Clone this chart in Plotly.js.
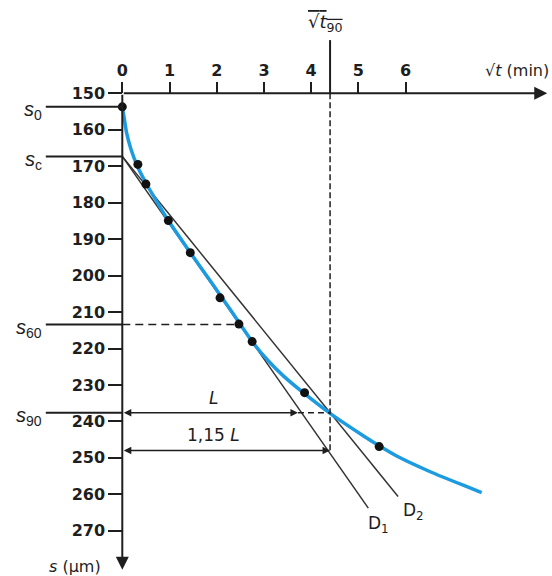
<!DOCTYPE html>
<html>
<head>
<meta charset="utf-8">
<script src="https://cdn.plot.ly/plotly-3.0.1.min.js"></script>
<style>html,body{margin:0;padding:0;background:#fff;}#chart{width:552px;height:576px;}</style>
</head>
<body>
<div id="chart"></div>
<script>
// ---- data ----
// sqrt(t) in sqrt(min), settlement s in µm
var curveX = [0, 0.04, 0.09, 0.18, 0.32, 0.5, 0.8, 0.975, 1.44, 1.9, 2.3, 2.75, 3.1, 3.41, 3.86, 4.4, 5.11, 5.44, 5.81, 6.52, 7.22, 7.61];
var curveS = [153.7, 156.8, 160.8, 165.2, 170.0, 174.6, 181.2, 184.9, 193.7, 202.1, 209.6, 218.1, 223.5, 227.5, 232.4, 237.8, 244.0, 246.7, 249.5, 253.8, 257.5, 259.5];
var dotX = [0, 0.33, 0.5, 0.975, 1.44, 2.07, 2.47, 2.75, 3.86, 5.44];
var dotS = [153.7, 169.5, 174.9, 184.9, 193.7, 206.1, 213.3, 218.1, 232.1, 246.9];
var d1X = [0, 5.21];
var d1S = [167.3, 263.8];
var d2X = [0, 5.84];
var d2S = [167.3, 260.6];
var xTicks = [0, 1, 2, 3, 4, 5, 6];
var yTicks = [150, 160, 170, 180, 190, 200, 210, 220, 230, 240, 250, 260, 270];
var levelNames = ['0', 'c', '60', '90'];
var levelS = [153.7, 167.3, 213.4, 237.6];
var s115 = 248.0;          // level of the 1,15 L arrow
var sqrtT90 = 4.4;         // abscissa of sqrt(t90)
var xL = 3.72;             // abscissa of D1 at s90 (end of L)
var s60X = 2.47;           // end of s60 dashed line
// ---- axes geometry ----
var xRange = [-2.59, 9.10];
var yRange = [282.4, 124.4];
var yAxisTop = 150, yAxisEnd = 280.7, xAxisEnd = 9.0, leftLineX = -1.62, t90Top = 135.4;

var ink = '#1e1e1e';
var tickFont = {family: 'DejaVu Sans', size: 16, color: ink, weight: 'bold'};
var txtFont = {family: 'DejaVu Sans', size: 17, color: ink};

var traces = [
  {x: d1X, y: d1S, mode: 'lines', line: {color: '#333', width: 1.5}, hoverinfo: 'skip'},
  {x: d2X, y: d2S, mode: 'lines', line: {color: '#333', width: 1.5}, hoverinfo: 'skip'},
  {x: curveX, y: curveS, mode: 'lines', line: {color: '#1c9be0', width: 3.5, shape: 'spline', smoothing: 0.5}, hoverinfo: 'skip'},
  {x: dotX, y: dotS, mode: 'markers', marker: {color: '#111', size: 9}, hoverinfo: 'skip'}
];

var shapes = [];
var annotations = [];
// left reference lines for s0, sc, s60, s90
levelS.forEach(function (s, i) {
  shapes.push({type: 'line', xref: 'x', yref: 'y', x0: leftLineX, x1: 0, y0: s, y1: s, line: {color: ink, width: 2}});
  annotations.push({xref: 'x', yref: 'y', x: leftLineX, y: s, xanchor: 'right', yanchor: 'middle', xshift: -2, yshift: -4,
    text: '<i>s</i><sub>' + levelNames[i] + '</sub>', showarrow: false, font: {family: 'Liberation Sans', size: 20, color: ink}});
});
// s60 dashed
shapes.push({type: 'line', xref: 'x', yref: 'y', x0: 0, x1: s60X, y0: levelS[2], y1: levelS[2], line: {color: ink, width: 1.5, dash: '8px,5px'}});
// s90 dashed continuation
shapes.push({type: 'line', xref: 'x', yref: 'y', x0: xL, x1: sqrtT90, y0: levelS[3], y1: levelS[3], line: {color: ink, width: 1.5, dash: '6px,4px'}});
// vertical sqrt(t90)
shapes.push({type: 'line', xref: 'x', yref: 'y', x0: sqrtT90, x1: sqrtT90, y0: t90Top, y1: yAxisTop, line: {color: ink, width: 2}});
shapes.push({type: 'line', xref: 'x', yref: 'y', x0: sqrtT90, x1: sqrtT90, y0: yAxisTop, y1: s115, line: {color: ink, width: 1.5, dash: '6px,3px'}});

function arrow(x0, y0, x1, y1, w, sz, both) {
  return {xref: 'x', yref: 'y', axref: 'x', ayref: 'y', x: x1, y: y1, ax: x0, ay: y0, text: '', showarrow: true,
    arrowhead: 2, startarrowhead: 2, arrowside: both ? 'end+start' : 'end', arrowsize: sz, startarrowsize: sz,
    arrowwidth: w, arrowcolor: ink, standoff: 0, startstandoff: 0};
}
// axes with arrowheads
annotations.push(arrow(0, yAxisTop, xAxisEnd, yAxisTop, 2, 1.3, false));
annotations.push(arrow(0, yAxisTop, 0, yAxisEnd, 2, 1.3, false));
// L and 1,15 L
annotations.push(arrow(0, levelS[3], xL, levelS[3], 1.5, 1, true));
annotations.push(arrow(0, s115, sqrtT90, s115, 1.5, 1, true));

annotations.push({xref: 'x', yref: 'y', x: 1.93, y: levelS[3], yanchor: 'bottom', yshift: 3, text: '<i>L</i>', showarrow: false, font: txtFont});
annotations.push({xref: 'x', yref: 'y', x: 1.93, y: s115, yanchor: 'bottom', yshift: 4, text: '1,15 <i>L</i>', showarrow: false, font: txtFont});
annotations.push({xref: 'x', yref: 'y', x: 5.42, y: 268.4, text: 'D<sub>1</sub>', showarrow: false, font: txtFont});
annotations.push({xref: 'x', yref: 'y', x: 6.16, y: 264.6, text: 'D<sub>2</sub>', showarrow: false, font: txtFont});
annotations.push({xref: 'x', yref: 'paper', x: sqrtT90, y: 1 - 23 / 576, yanchor: 'middle', xshift: -5,
  text: '<span style="text-decoration:overline">√<i>t</i><sub>90</sub></span>', showarrow: false, font: {family: 'DejaVu Sans', size: 18, color: ink}});
annotations.push({xref: 'paper', yref: 'paper', x: 1, y: 1 - 70 / 576, xanchor: 'right', yanchor: 'middle', xshift: -1,
  text: '√<i>t</i> (min)', showarrow: false, font: {family: 'DejaVu Sans', size: 16, color: ink}});
annotations.push({xref: 'x', yref: 'paper', x: -1.0, y: 1 - 566 / 576, yanchor: 'middle',
  text: '<i>s</i> (µm)', showarrow: false, font: {family: 'DejaVu Sans', size: 16, color: ink}});

var layout = {
  width: 552, height: 576,
  margin: {l: 0, r: 0, t: 0, b: 0},
  paper_bgcolor: '#fff', plot_bgcolor: '#fff',
  showlegend: false,
  xaxis: {range: xRange, side: 'top', anchor: 'free', position: 1 - 93.3 / 576,
    tickvals: xTicks, ticktext: xTicks.map(String), ticks: 'outside', ticklen: 11, tickwidth: 2, tickcolor: ink,
    showline: false, showgrid: false, zeroline: false, tickfont: tickFont, fixedrange: true},
  yaxis: {range: yRange, anchor: 'free', position: 122.3 / 552, side: 'left',
    tickvals: yTicks, ticktext: yTicks.map(String), ticks: 'outside', ticklen: 14, tickwidth: 2, tickcolor: ink,
    showline: false, showgrid: false, zeroline: false, tickfont: tickFont, fixedrange: true},
  shapes: shapes,
  annotations: annotations
};

Plotly.newPlot('chart', traces, layout, {displayModeBar: false, staticPlot: true});
</script>
</body>
</html>
